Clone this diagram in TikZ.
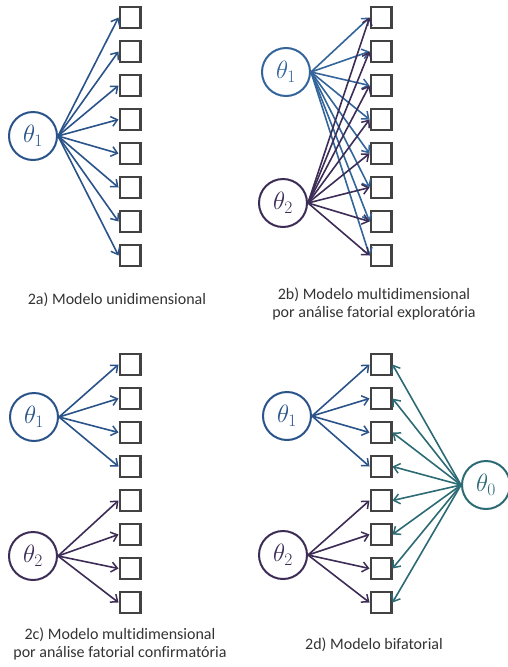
\documentclass[tikz,border=0pt]{standalone}
\usepackage{fix-cm}
\usepackage{fontspec}
\setmainfont{Carlito}[Ligatures=NoCommon]
\usetikzlibrary{arrows.meta}
\definecolor{boxgray}{HTML}{424242}
\definecolor{capgray}{HTML}{333333}
\definecolor{blueA}{HTML}{2A5389}
\definecolor{blueB}{HTML}{33649A}
\definecolor{purp}{HTML}{3C2C56}
\definecolor{teal}{HTML}{2C6A74}
\begin{document}
\begin{tikzpicture}[x=1pt,y=-1pt,
  item/.style={draw=boxgray, line width=2.4pt, minimum size=20.6pt, inner sep=0pt},
  latent/.style={circle, draw, line width=2pt, minimum size=48pt, inner sep=0pt,
    font=\fontsize{25}{25}\selectfont},
  load/.style={line width=1.6pt, -{Straight Barb[length=6pt,width=10pt,line width=1.5pt]}},
  caption/.style={font=\fontsize{16}{18.5}\selectfont, text=capgray, align=center}]
\useasboundingbox (0,0) rectangle (507,667);

% ---- 2a: one factor loading on all eight items
\foreach \i in {1,...,8}
  \node[item] (a\i) at (130,{17.5+34*(\i-1)}) {};
\node[latent, draw=blueA, text=blueA] (at1) at (33,136) {$\theta_1$};
\foreach \i in {1,...,8}
  \draw[load, blueA] (at1.east) -- (a\i.west);
\node[caption] (capa) at (117,300) {2a) Modelo unidimensional};

% ---- 2b: two factors, each loading on every item
\foreach \i in {1,...,8}
  \node[item] (b\i) at (381,{17.5+34*(\i-1)}) {};
\node[latent, draw=blueB, text=blueB] (bt1) at (286,72) {$\theta_1$};
\node[latent, draw=purp, text=purp] (bt2) at (283,203) {$\theta_2$};
\foreach \i in {1,...,8}
  \draw[load, blueB] (bt1.east) -- (b\i.west);
\foreach \i in {1,...,8}
  \draw[load, purp] (bt2.east) -- (b\i.west);
\node[caption] (capb) at (374,304) {2b) Modelo multidimensional\\por análise fatorial exploratória};

% ---- 2c: two factors, each on its own block of items
\foreach \i in {1,...,8}
  \node[item] (c\i) at (130,{364.5+34*(\i-1)}) {};
\node[latent, draw=blueA, text=blueA] (ct1) at (34,417) {$\theta_1$};
\node[latent, draw=purp, text=purp] (ct2) at (33,556) {$\theta_2$};
\foreach \i in {1,...,4}
  \draw[load, blueA] (ct1.east) -- (c\i.west);
\foreach \i in {5,...,8}
  \draw[load, purp] (ct2.east) -- (c\i.west);
\node[caption] (capc) at (120,644) {2c) Modelo multidimensional\\por análise fatorial confirmatória};

% ---- 2d: bifactor, general factor plus two specific factors
\foreach \i in {1,...,8}
  \node[item] (d\i) at (381,{364.5+34*(\i-1)}) {};
\node[latent, draw=blueA, text=blueA] (dt1) at (287,416) {$\theta_1$};
\node[latent, draw=purp, text=purp] (dt2) at (283,555) {$\theta_2$};
\node[latent, draw=teal, text=teal] (dt0) at (486,485) {$\theta_0$};
\foreach \i in {1,...,4}
  \draw[load, blueA] (dt1.east) -- (d\i.west);
\foreach \i in {5,...,8}
  \draw[load, purp] (dt2.east) -- (d\i.west);
\foreach \i in {1,...,8}
  \draw[load, teal] (dt0.west) -- (d\i.east);
\node[caption] (capd) at (374,645) {2d) Modelo bifatorial};
\end{tikzpicture}
\end{document}
